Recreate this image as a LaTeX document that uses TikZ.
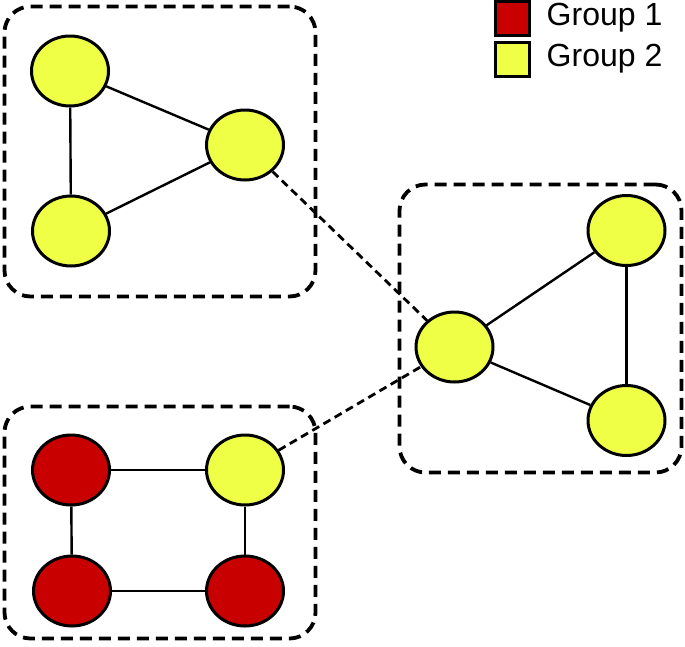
\documentclass[tikz,border=0pt]{standalone}
\usepackage{fontspec}
\setmainfont{Liberation Sans}
\usetikzlibrary{shapes.geometric, positioning}

\definecolor{grpred}{RGB}{200,0,0}
\definecolor{grpyel}{RGB}{238,255,70}

\begin{document}
\begin{tikzpicture}[
    x=1pt, y=-1pt,
    every node/.style={font=\fontsize{32}{38}\selectfont},
    nd/.style={draw, ellipse, line width=3pt, minimum width=77pt, minimum height=70pt, inner sep=0pt},
    red/.style={nd, fill=grpred},
    yel/.style={nd, fill=grpyel},
    grp/.style={draw, dash pattern=on 12pt off 7pt, line width=3.8pt, rounded corners=26pt, inner sep=0pt},
    e/.style={line width=2.4pt},
    lnk/.style={line width=2.8pt, dash pattern=on 8pt off 5pt},
    key/.style={draw, line width=3pt, minimum size=34pt, inner sep=0pt}
]
\useasboundingbox (0,0) rectangle (685,646);
% dashed groups
\node[grp, minimum width=311pt, minimum height=290pt] (g1) at (160,151.5) {};
\node[grp, minimum width=282pt, minimum height=288pt] (g2) at (540.5,328.5) {};
\node[grp, minimum width=311pt, minimum height=232pt] (g3) at (160,522.5) {};
% top left
\node[yel] (a1) at (70,71)  {};
\node[yel] (a2) at (245,145) {};
\node[yel] (a3) at (71,231) {};
% right
\node[yel] (b1) at (454.5,347) {};
\node[yel] (b2) at (626.5,230.5) {};
\node[yel] (b3) at (626.5,420.5) {};
% bottom left
\node[red] (c1) at (71,470) {};
\node[yel] (c2) at (245,470) {};
\node[red] (c3) at (72,591) {};
\node[red] (c4) at (245,591) {};
\draw[e] (a1) -- (a2);
\draw[e] (a1) -- (a3);
\draw[e] (a3) -- (a2);
\draw[e] (b1) -- (b2);
\draw[e] (b1) -- (b3);
\draw[e] (b2) -- (b3);
\draw[e] (c1) -- (c2);
\draw[e] (c1) -- (c3);
\draw[e] (c2) -- (c4);
\draw[e] (c3) -- (c4);
\draw[lnk] (a2) -- (b1);
\draw[lnk] (c2) -- (b1);
% legend
\node[key, fill=grpred] (k1) at (512,18) {};
\node[key, fill=grpyel] (k2) at (512,59) {};
\node[right=16pt of k1, inner sep=0pt] (t1) {Group 1};
\node[right=16pt of k2, inner sep=0pt] (t2) {Group 2};
\end{tikzpicture}
\end{document}
